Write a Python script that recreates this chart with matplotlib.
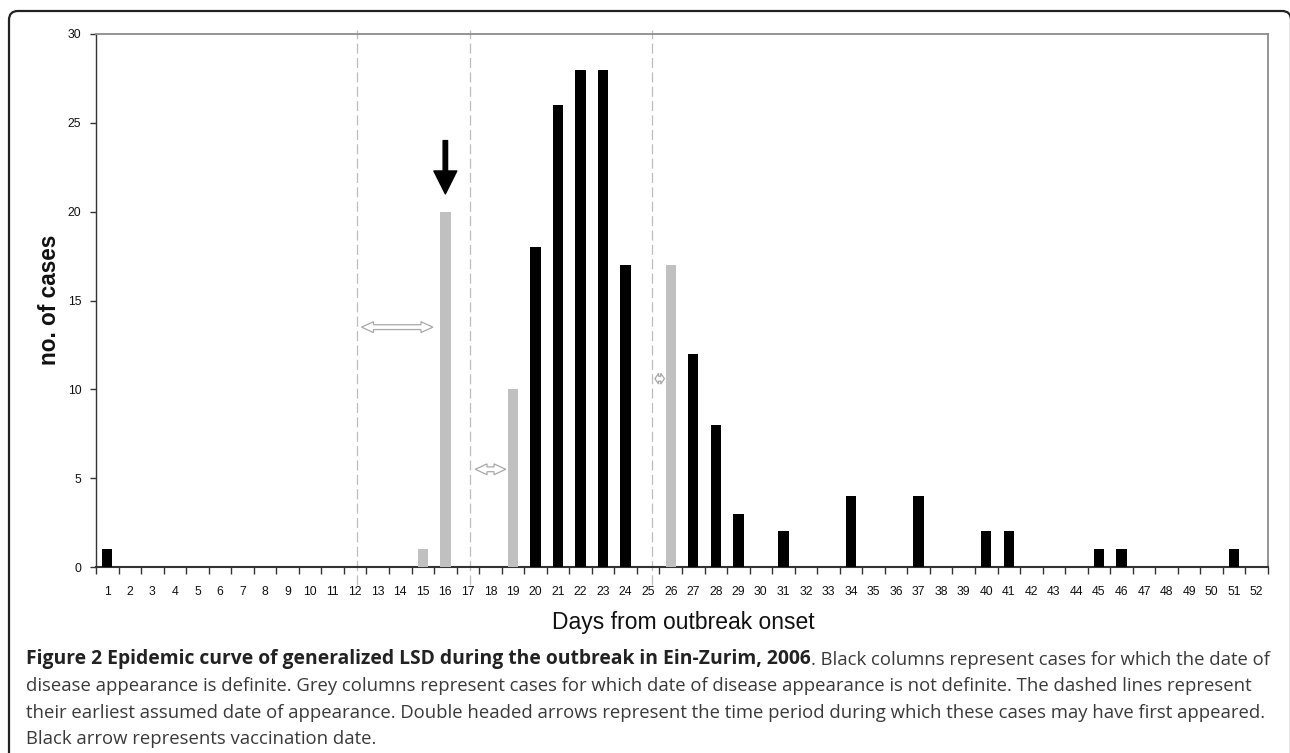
import matplotlib
matplotlib.use("Agg")
import matplotlib.pyplot as plt
import matplotlib.patches as mpatches
from matplotlib.text import Annotation
from matplotlib.transforms import IdentityTransform
import numpy as np

# ---------------- data ----------------
days = list(range(1, 53))
black_days = [1, 20, 21, 22, 23, 24, 27, 28, 29, 31, 34, 37, 40, 41, 45, 46, 51]
black_cases = [1, 18, 26, 28, 28, 17, 12, 8, 3, 2, 4, 4, 2, 2, 1, 1, 1]
grey_days = [15, 16, 19, 26]
grey_cases = [1, 20, 10, 17]
dashed_days = [12.07, 17.09, 25.15]
period_starts = [12.28, 17.33, 25.3]
period_ends = [15.45, 18.68, 25.72]
period_levels = [13.5, 5.5, 10.6]
vacc_day = 16
vacc_from, vacc_to = 24.0, 21.0
y_ticks = [0, 5, 10, 15, 20, 25, 30]

caption_bold = "Figure 2 Epidemic curve of generalized LSD during the outbreak in Ein-Zurim, 2006"
caption_rest = ". Black columns represent cases for which the date of"
caption_lines = [
    "disease appearance is definite. Grey columns represent cases for which date of disease appearance is not definite. The dashed lines represent",
    "their earliest assumed date of appearance. Double headed arrows represent the time period during which these cases may have first appeared.",
    "Black arrow represents vaccination date.",
]

# ---------------- figure ----------------
W, H = 1290, 753
fig = plt.figure(figsize=(W / 100, H / 100), dpi=100)
fig.patch.set_facecolor("white")

def px(x, y):
    return x / W, 1 - y / H

ax_l, ax_r, ax_t, ax_b = 96, 1268, 34, 567
ax = fig.add_axes([ax_l / W, 1 - ax_b / H, (ax_r - ax_l) / W, (ax_b - ax_t) / H])

ax.bar(black_days, black_cases, width=0.46, color="black", zorder=3)
ax.bar(grey_days, grey_cases, width=0.46, color="#c0c0c0", zorder=3)

ax.set_xlim(0.5, 52.5)
ax.set_ylim(0, 30)

# category axis: ticks between categories, labels at centres
ax.set_xticks(np.arange(0.5, 53.0, 1.0))
ax.set_xticklabels([])
ax.set_xticks(days, minor=True)
ax.set_xticklabels([str(d) for d in days], minor=True)
ax.tick_params(axis="x", which="major", length=5, width=1, color="#333333", direction="out")
ax.tick_params(axis="x", which="minor", length=0, pad=14, labelsize=8.8, labelcolor="#111111")
ax.set_yticks(y_ticks)
ax.tick_params(axis="y", length=4, width=1, color="#333333", pad=6.5, labelsize=8.8,
               labelcolor="#111111")
for lab in ax.get_xticklabels(minor=True) + ax.get_yticklabels():
    lab.set_family("Liberation Sans")

ax.spines["left"].set_color("#333333")
ax.spines["left"].set_linewidth(1.0)
ax.spines["bottom"].set_color("#333333")
ax.spines["bottom"].set_linewidth(1.5)
ax.spines["top"].set_color("#8c8c8c")
ax.spines["top"].set_linewidth(1.3)
ax.spines["right"].set_color("#8c8c8c")
ax.spines["right"].set_linewidth(1.3)

# dashed lines: earliest assumed dates
ax.vlines(dashed_days, -1.0, 30.2, colors="#bdbdbd", linewidth=0.9,
          linestyles=(0, (8, 3.5)), clip_on=False, zorder=2)

# hollow double-headed arrows
def hollow_double_arrow(x0, x1, y, shaft_h=2.4, head_h=5.4, head_l=12):
    (p0, py), (p1, _) = ax.transData.transform([(x0, y), (x1, y)])
    length = p1 - p0
    hl = min(head_l, length / 2.6)
    verts = [
        (p0, py), (p0 + hl, py + head_h), (p0 + hl, py + shaft_h),
        (p1 - hl, py + shaft_h), (p1 - hl, py + head_h), (p1, py),
        (p1 - hl, py - head_h), (p1 - hl, py - shaft_h), (p0 + hl, py - shaft_h),
        (p0 + hl, py - head_h),
    ]
    poly = mpatches.Polygon(verts, closed=True, transform=IdentityTransform(),
                            facecolor="white", edgecolor="#a8a8a8", linewidth=0.9, zorder=5)
    fig.add_artist(poly)

for x0, x1, y in zip(period_starts, period_ends, period_levels):
    hollow_double_arrow(x0, x1, y)

# vaccination arrow
arr = mpatches.FancyArrowPatch((vacc_day, vacc_from), (vacc_day, vacc_to),
                               arrowstyle="simple,head_length=1.65,head_width=1.65,tail_width=0.32",
                               mutation_scale=10, color="black", shrinkA=0, shrinkB=0, zorder=6)
ax.add_patch(arr)

# axis titles
fig.text(*px(50, 300), "no. of cases", rotation=90, ha="center", va="center",
         fontsize=16.3, fontweight="bold", family="Liberation Sans", color="#111111")
fig.text(*px(683, 623), "Days from outbreak onset", ha="center", va="center",
         fontsize=16.5, family="Liberation Sans", color="#111111")

# outer rounded frame
frame = mpatches.FancyBboxPatch((9, -30), 1282, H - 11 + 30,
                                boxstyle="round,pad=0,rounding_size=9",
                                transform=IdentityTransform(), facecolor="none",
                                edgecolor="#222222", linewidth=1.6, zorder=10)
fig.add_artist(frame)

# caption
cap_font = "Open Sans"
bold_size = 13.85
reg_size = 13.3
t1 = fig.text(*px(26, 659), caption_bold, ha="left", va="center", fontsize=bold_size,
              fontweight="bold", family=cap_font, color="#222222")
fig.add_artist(Annotation(caption_rest, xy=(1, 0), xycoords=t1, ha="left", va="bottom",
                          fontsize=reg_size, family=cap_font, color="#3a3a3a"))
for i, line in enumerate(caption_lines):
    fig.text(*px(26, 686 + 26.5 * i), line, ha="left", va="center", fontsize=reg_size,
             family=cap_font, color="#3a3a3a")

fig.savefig("out.png", dpi=100, facecolor="white")
